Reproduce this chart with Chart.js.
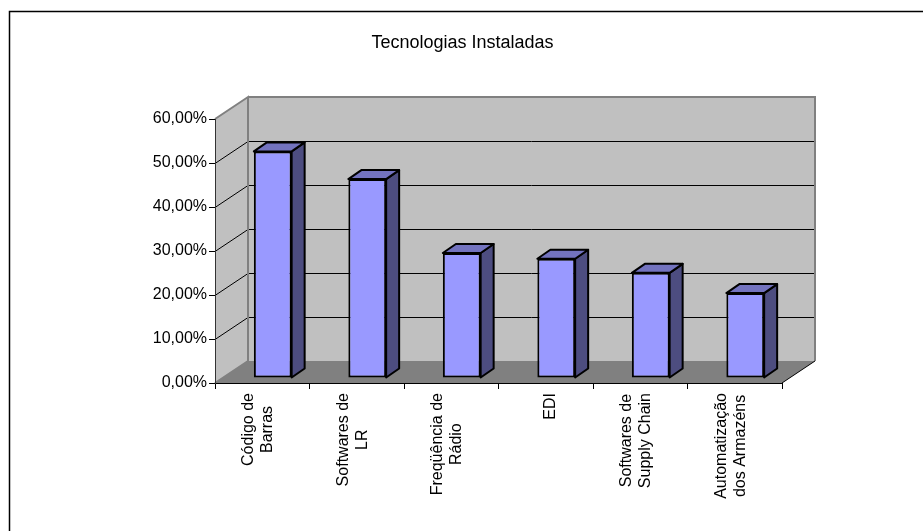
<!DOCTYPE html>
<html>
<head>
<meta charset="utf-8">
<script src="https://cdn.jsdelivr.net/npm/chart.js@4.4.0/dist/chart.umd.min.js"></script>
<style>
  html, body { margin: 0; padding: 0; background: #fff; }
</style>
</head>
<body>
<canvas id="grafico" width="923" height="531"></canvas>
<script>
// dados
const tituloGrafico = 'Tecnologias Instaladas';
const categorias = [
    ['Código de', 'Barras'],
    ['Softwares de', 'LR'],
    ['Freqüência de', 'Rádio'],
    ['EDI'],
    ['Softwares de', 'Supply Chain'],
    ['Automatização', 'dos Armazéns']
];
const percentuais = [51.5, 45.2, 28.4, 27.1, 23.9, 19.3];
const eixoY = { min: 0, max: 60, passo: 10 };

// profundidade do "3D"
const PROF_X = 33, PROF_Y = -22;      // parede do fundo
const BARRA_X = 10.5, BARRA_Y = -5;   // face frontal das barras
const LADO_X = 13, LADO_Y = -9;       // espessura das barras
const FONTE = '16px "Liberation Sans", Arial, sans-serif';
const FONTE_TITULO = '18px "Liberation Sans", Arial, sans-serif';

function formataPct(v) {
    return v.toFixed(2).replace('.', ',') + '%';
}

const efeito3d = {
    id: 'efeito3d',
    beforeDraw(chart) {
        const ctx = chart.ctx;
        const a = chart.chartArea;
        const y = chart.scales.y;

        ctx.save();
        ctx.fillStyle = '#fff';
        ctx.fillRect(0, 0, chart.width, chart.height);

        // moldura externa
        ctx.strokeStyle = '#000';
        ctx.lineWidth = 1.5;
        ctx.beginPath();
        ctx.moveTo(9.5, chart.height);
        ctx.lineTo(9.5, 11.5);
        ctx.lineTo(chart.width, 11.5);
        ctx.stroke();

        // título
        ctx.fillStyle = '#000';
        ctx.font = FONTE_TITULO;
        ctx.textAlign = 'center';
        ctx.textBaseline = 'middle';
        ctx.fillText(tituloGrafico, chart.width / 2 + 1, 43);

        // parede lateral
        ctx.fillStyle = '#c0c0c0';
        ctx.beginPath();
        ctx.moveTo(a.left, a.bottom);
        ctx.lineTo(a.left + PROF_X, a.bottom + PROF_Y);
        ctx.lineTo(a.left + PROF_X, a.top + PROF_Y);
        ctx.lineTo(a.left, a.top);
        ctx.closePath();
        ctx.fill();

        // parede do fundo
        ctx.fillRect(a.left + PROF_X, a.top + PROF_Y, a.right - a.left, a.bottom - a.top);

        // piso
        ctx.fillStyle = '#808080';
        ctx.beginPath();
        ctx.moveTo(a.left, a.bottom);
        ctx.lineTo(a.left + PROF_X, a.bottom + PROF_Y);
        ctx.lineTo(a.right + PROF_X, a.bottom + PROF_Y);
        ctx.lineTo(a.right, a.bottom);
        ctx.closePath();
        ctx.fill();

        // linhas de grade (fundo + lateral)
        ctx.strokeStyle = '#000';
        ctx.lineWidth = 1;
        y.ticks.forEach(t => {
            if (t.value === eixoY.min || t.value === eixoY.max) return;
            const py = Math.round(y.getPixelForValue(t.value)) + 0.5;
            ctx.beginPath();
            ctx.moveTo(a.left, py);
            ctx.lineTo(a.left + PROF_X, py + PROF_Y);
            ctx.lineTo(a.right + PROF_X, py + PROF_Y);
            ctx.stroke();
        });

        // bordas cinzas das paredes
        ctx.strokeStyle = '#808080';
        ctx.lineWidth = 2;
        ctx.beginPath();
        ctx.moveTo(a.left, a.bottom);
        ctx.lineTo(a.left + PROF_X, a.bottom + PROF_Y);
        ctx.lineTo(a.left + PROF_X, a.top + PROF_Y);
        ctx.lineTo(a.left, a.top);
        ctx.moveTo(a.left + PROF_X, a.top + PROF_Y);
        ctx.lineTo(a.right + PROF_X, a.top + PROF_Y);
        ctx.lineTo(a.right + PROF_X, a.bottom + PROF_Y);
        ctx.stroke();

        // aresta direita do piso
        ctx.strokeStyle = '#000';
        ctx.lineWidth = 1;
        ctx.beginPath();
        ctx.moveTo(a.right, a.bottom);
        ctx.lineTo(a.right + PROF_X, a.bottom + PROF_Y);
        ctx.stroke();
        ctx.restore();
    },
    beforeDatasetsDraw(chart) {
        const ctx = chart.ctx;
        const meta = chart.getDatasetMeta(0);
        ctx.save();
        ctx.lineWidth = 2;
        ctx.strokeStyle = '#000';
        ctx.lineJoin = 'round';
        meta.data.forEach(bar => {
            const p = bar.getProps(['x', 'y', 'base', 'width'], true);
            const L = p.x - p.width / 2 + BARRA_X;
            const R = p.x + p.width / 2 + BARRA_X;
            const T = p.y + BARRA_Y;
            const B = p.base + BARRA_Y;
            // lado
            ctx.fillStyle = '#4d4d80';
            ctx.beginPath();
            ctx.moveTo(R, T);
            ctx.lineTo(R + LADO_X, T + LADO_Y);
            ctx.lineTo(R + LADO_X, B + LADO_Y);
            ctx.lineTo(R, B);
            ctx.closePath();
            ctx.fill();
            ctx.stroke();
            // topo
            ctx.fillStyle = '#7373bf';
            ctx.beginPath();
            ctx.moveTo(L, T);
            ctx.lineTo(L + LADO_X, T + LADO_Y);
            ctx.lineTo(R + LADO_X, T + LADO_Y);
            ctx.lineTo(R, T);
            ctx.closePath();
            ctx.fill();
            ctx.stroke();
        });
        // face frontal desenhada pelo Chart.js, deslocada para dentro
        ctx.translate(BARRA_X, BARRA_Y);
    },
    afterDatasetsDraw(chart) {
        chart.ctx.restore();
    },
    afterDraw(chart) {
        // rótulos do eixo X girados, linhas centralizadas
        const ctx = chart.ctx;
        const x = chart.scales.x;
        ctx.save();
        ctx.font = FONTE;
        ctx.fillStyle = '#000';
        ctx.textAlign = 'center';
        ctx.textBaseline = 'middle';
        const alturaLinha = 19;
        categorias.forEach((linhas, i) => {
            const px = x.getPixelForValue(i) + (linhas.length === 1 ? 5 : -4);
            const larg = Math.max(...linhas.map(l => ctx.measureText(l).width));
            ctx.save();
            ctx.translate(px, chart.chartArea.bottom + 10);
            ctx.rotate(-Math.PI / 2);
            linhas.forEach((l, k) => {
                ctx.fillText(l, -larg / 2, (k - (linhas.length - 1) / 2) * alturaLinha);
            });
            ctx.restore();
        });
        ctx.restore();
    }
};

new Chart(document.getElementById('grafico'), {
    type: 'bar',
    data: {
        labels: categorias,
        datasets: [{
            data: percentuais,
            backgroundColor: '#9999ff',
            borderColor: '#000',
            borderWidth: 2,
            borderSkipped: false,
            barPercentage: 0.4,
            categoryPercentage: 1.0
        }]
    },
    options: {
        responsive: false,
        animation: false,
        devicePixelRatio: 1,
        layout: { padding: { left: 0, top: 119, right: 141, bottom: 0 } },
        plugins: {
            legend: { display: false },
            title: { display: false },
            tooltip: { enabled: false }
        },
        scales: {
            x: {
                ticks: { display: false },
                grid: { drawOnChartArea: false, drawTicks: true, tickLength: 6, color: '#000' },
                border: { display: true, color: '#000', width: 1 },
                afterFit(s) { s.height = 148; }
            },
            y: {
                min: eixoY.min,
                max: eixoY.max,
                ticks: {
                    stepSize: eixoY.passo,
                    padding: 2,
                    color: '#000',
                    font: { family: '"Liberation Sans", Arial, sans-serif', size: 16 },
                    callback: v => formataPct(v)
                },
                grid: { drawOnChartArea: false, drawTicks: true, tickLength: 6, color: '#000' },
                border: { display: true, color: '#333', width: 1 },
                afterFit(s) { s.width = 215; }
            }
        }
    },
    plugins: [efeito3d]
});
</script>
</body>
</html>
